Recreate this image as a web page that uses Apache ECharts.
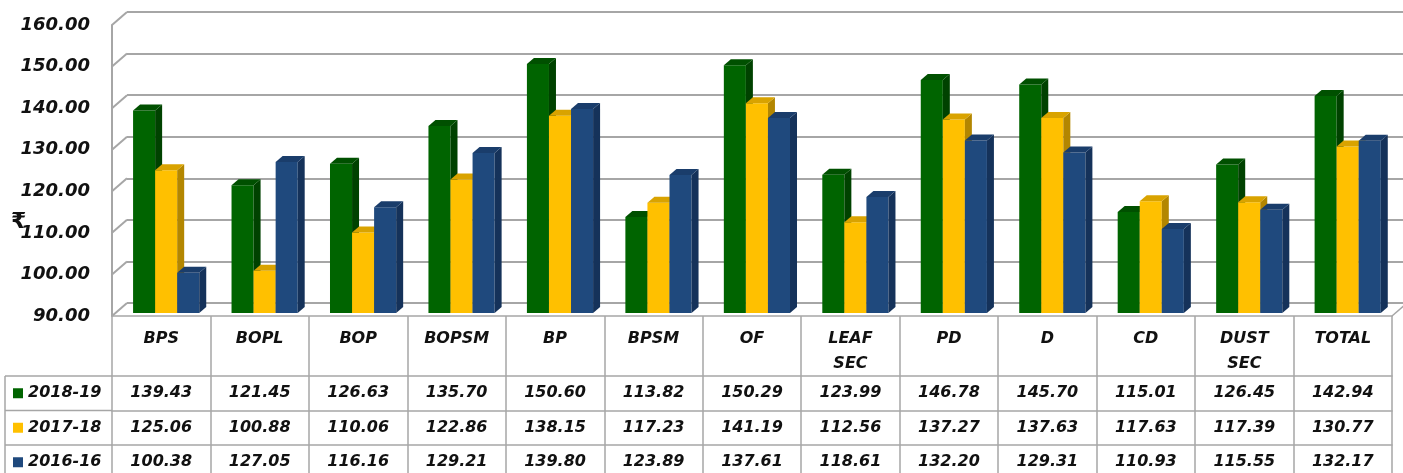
<!DOCTYPE html>
<html>
<head>
<meta charset="utf-8">
<script src="https://cdn.jsdelivr.net/npm/echarts@6/dist/echarts.min.js"></script>
<style>
  html, body { margin: 0; padding: 0; background: #fff; }
  #chart { width: 1403px; height: 473px; }
</style>
</head>
<body>
<div id="chart"></div>
<script>
const categories = ['BPS', 'BOPL', 'BOP', 'BOPSM', 'BP', 'BPSM', 'OF', 'LEAF\nSEC', 'PD', 'D', 'CD', 'DUST\nSEC', 'TOTAL']
const seriesNames = ['2018-19', '2017-18', '2016-16']
const values2018 = [139.43, 121.45, 126.63, 135.70, 150.60, 113.82, 150.29, 123.99, 146.78, 145.70, 115.01, 126.45, 142.94]
const values2017 = [125.06, 100.88, 110.06, 122.86, 138.15, 117.23, 141.19, 112.56, 137.27, 137.63, 117.63, 117.39, 130.77]
const values2016 = [100.38, 127.05, 116.16, 129.21, 139.80, 123.89, 137.61, 118.61, 132.20, 129.31, 110.93, 115.55, 132.17]
const yMin = 90
const yMax = 160
const yStep = 10
const yTicks = [90, 100, 110, 120, 130, 140, 150, 160]

const allValues = [values2018, values2017, values2016]
// front face, side face, top face
const palette = [
  ['#006400', '#004200', '#005000'],
  ['#ffc000', '#b38600', '#d9a300'],
  ['#1f497d', '#15325a', '#1a3d6b']
]

const font = { fontFamily: 'DejaVu Sans', fontWeight: 'bold', fontStyle: 'italic', color: '#111' }
const lineGray = '#a6a6a6'
const depth = [7, -6]

// table rows below the plot
const tableTop = 316
const headerH = 60
const rowH = 34.5

function barSeries(idx) {
  return {
    name: seriesNames[idx],
    type: 'custom',
    xAxisIndex: 0,
    yAxisIndex: 0,
    itemStyle: { color: palette[idx][0] },
    data: allValues[idx].map((v, i) => [i, v]),
    encode: { x: 0, y: 1 },
    z: 3 + idx,
    renderItem: function (params, api) {
      const top = api.coord([api.value(0), api.value(1)])
      const base = api.coord([api.value(0), yMin])
      const band = api.size([1, 0])[0]
      const w = band * 0.224
      const x = top[0] - 1.5 * w + band * 0.05 + idx * w
      const yt = top[1]
      const yb = base[1] - 3
      const dx = depth[0]
      const dy = depth[1]
      return {
        type: 'group',
        children: [
          { type: 'rect', shape: { x: x, y: yt, width: w, height: yb - yt }, style: { fill: palette[idx][0] } },
          { type: 'polygon', shape: { points: [[x + w, yt], [x + w + dx, yt + dy], [x + w + dx, yb + dy], [x + w, yb]] }, style: { fill: palette[idx][1] } },
          { type: 'polygon', shape: { points: [[x, yt], [x + dx, yt + dy], [x + w + dx, yt + dy], [x + w, yt]] }, style: { fill: palette[idx][2] } }
        ]
      }
    }
  }
}

const wallSeries = {
  type: 'custom',
  xAxisIndex: 0,
  yAxisIndex: 0,
  silent: true,
  z: 1,
  data: yTicks.map(v => [0, v]),
  encode: { x: 0, y: 1 },
  renderItem: function (params, api) {
    const cs = params.coordSys
    const y = api.coord([0, api.value(1)])[1]
    const children = [
      { type: 'line', shape: { x1: cs.x, y1: y, x2: cs.x + 15, y2: y - 13 }, style: { stroke: lineGray, lineWidth: 2 } }
    ]
    if (api.value(1) === yMin) {
      children.push({ type: 'line', shape: { x1: cs.x + cs.width, y1: y, x2: cs.x + cs.width + 15, y2: y - 13 }, style: { stroke: lineGray, lineWidth: 1.5 } })
    }
    return { type: 'group', children: children }
  }
}

function rowAxis(idx) {
  return {
    gridIndex: 0,
    type: 'category',
    position: 'bottom',
    offset: headerH + rowH * idx,
    data: allValues[idx].map(v => v.toFixed(2)),
    axisLine: { lineStyle: { color: lineGray, width: 1.5 } },
    axisTick: { show: false },
    axisLabel: Object.assign({ interval: 0, margin: rowH / 2, verticalAlign: 'middle', fontSize: 16 }, font)
  }
}

const chart = echarts.init(document.getElementById('chart'))

const legendLines = [0, 1, 2].map(i => ({
  type: 'line',
  shape: { x1: 5, y1: tableTop + headerH + rowH * i, x2: 112, y2: tableTop + headerH + rowH * i },
  style: { stroke: lineGray, lineWidth: 1.5 }
}))
legendLines.push({
  type: 'line',
  shape: { x1: 5, y1: tableTop + headerH, x2: 5, y2: 473 },
  style: { stroke: lineGray, lineWidth: 1.5 }
})

const option = {
  animation: false,
  backgroundColor: '#fff',
  grid: [
    { left: 112, right: 11, top: 25, bottom: 473 - tableTop },
    { left: 127, right: 0, top: 12, bottom: 473 - tableTop + 13 }
  ],
  legend: {
    data: seriesNames,
    orient: 'vertical',
    left: 13,
    top: tableTop + headerH,
    height: 150,
    padding: 0,
    itemGap: 0,
    itemWidth: 10,
    itemHeight: 10,
    icon: 'rect',
    selectedMode: false,
    textStyle: Object.assign({ fontSize: 16, lineHeight: rowH }, font)
  },
  xAxis: [
    {
      gridIndex: 0,
      type: 'category',
      position: 'bottom',
      data: categories,
      axisLine: { lineStyle: { color: lineGray, width: 1.5 } },
      axisTick: { show: true, interval: 0, length: 160, lineStyle: { color: lineGray, width: 1.5 } },
      axisLabel: Object.assign({ interval: 0, margin: 10, lineHeight: 25, verticalAlign: 'top', fontSize: 16 }, font)
    },
    rowAxis(0),
    rowAxis(1),
    rowAxis(2),
    { gridIndex: 1, type: 'category', data: categories, show: false }
  ],
  yAxis: [
    {
      gridIndex: 0,
      type: 'value',
      min: yMin,
      max: yMax,
      interval: yStep,
      axisLine: { show: true, lineStyle: { color: lineGray, width: 2 } },
      axisTick: { show: false },
      splitLine: { show: false },
      axisLabel: Object.assign({ margin: 22, fontSize: 18, formatter: v => v.toFixed(2) }, font)
    },
    {
      gridIndex: 1,
      type: 'value',
      min: yMin,
      max: yMax,
      interval: yStep,
      axisLine: { show: false },
      axisTick: { show: false },
      axisLabel: { show: false },
      splitLine: { show: true, lineStyle: { color: lineGray, width: 2 } }
    }
  ],
  graphic: legendLines.concat([
    { type: 'text', left: 11, top: 211, style: Object.assign({ text: '₹', fontSize: 22 }, font, { fill: '#111', fontStyle: 'normal' }) }
  ]),
  series: [wallSeries, barSeries(0), barSeries(1), barSeries(2)]
}

chart.setOption(option)
</script>
</body>
</html>
